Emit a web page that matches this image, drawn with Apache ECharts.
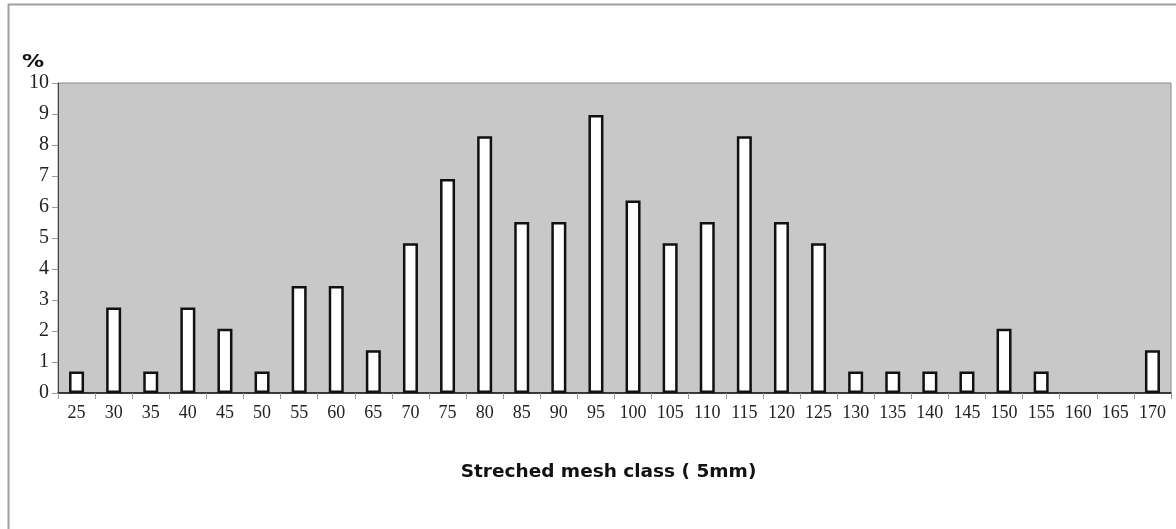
<!DOCTYPE html>
<html>
<head>
<meta charset="utf-8">
<script src="https://cdn.jsdelivr.net/npm/echarts@6/dist/echarts.min.js"></script>
<style>
html,body{margin:0;padding:0;background:#fff;}
#chart{width:1176px;height:529px;}
</style>
</head>
<body>
<div id="chart"></div>
<script>
const categories = ['25','30','35','40','45','50','55','60','65','70','75','80','85','90','95','100','105','110','115','120','125','130','135','140','145','150','155','160','165','170'];
const percentValues = [0.69,2.76,0.69,2.76,2.07,0.69,3.45,3.45,1.38,4.83,6.9,8.28,5.52,5.52,8.97,6.21,4.83,5.52,8.28,5.52,4.83,0.69,0.69,0.69,0.69,2.07,0.69,0,0,1.38];
const yTicks = [0,1,2,3,4,5,6,7,8,9,10];
const yUnit = '%';
const xTitle = 'Streched mesh class ( 5mm)';

const seriesData = percentValues.map(v => v === 0
  ? {value:v, itemStyle:{borderWidth:0, color:'transparent'}}
  : v);

const chart = echarts.init(document.getElementById('chart'), null, {renderer:'canvas'});
chart.setOption({
  animation:false,
  backgroundColor:'#ffffff',
  graphic:[
    {type:'rect', shape:{x:8.5,y:4.5,width:1300,height:700}, style:{fill:'none',stroke:'#a0a0a0',lineWidth:2}, silent:true},
    {type:'text', x:22, y:54, scaleX:1.3, style:{text:yUnit, font:'bold 17px "DejaVu Sans"', fill:'#111'}}
  ],
  grid:{left:58, right:5, top:83, bottom:136, show:true, backgroundColor:'#c8c8c8', borderColor:'#8a8a8a', borderWidth:1},
  xAxis:{
    type:'category',
    data:categories,
    boundaryGap:true,
    name:xTitle,
    nameLocation:'middle',
    nameGap:70,
    nameTextStyle:{fontFamily:'DejaVu Sans', fontWeight:'bold', fontSize:18.5, color:'#111', padding:[0,12,0,0]},
    axisLine:{lineStyle:{color:'#111', width:1.5}},
    axisTick:{show:true, alignWithLabel:false, length:6, lineStyle:{color:'#999'}},
    axisLabel:{fontFamily:'Liberation Serif', fontSize:18, color:'#222', margin:11, interval:0}
  },
  yAxis:{
    type:'value',
    min:yTicks[0],
    max:yTicks[yTicks.length-1],
    interval:1,
    splitLine:{show:false},
    axisLine:{show:true, lineStyle:{color:'#444', width:1}},
    axisTick:{show:true, length:6, lineStyle:{color:'#999'}},
    axisLabel:{fontFamily:'Liberation Serif', fontSize:20, color:'#222', margin:9}
  },
  series:[{
    type:'bar',
    data:seriesData,
    barWidth:15,
    itemStyle:{color:'#ffffff', borderColor:'#111', borderWidth:2.5}
  }]
});
</script>
</body>
</html>
